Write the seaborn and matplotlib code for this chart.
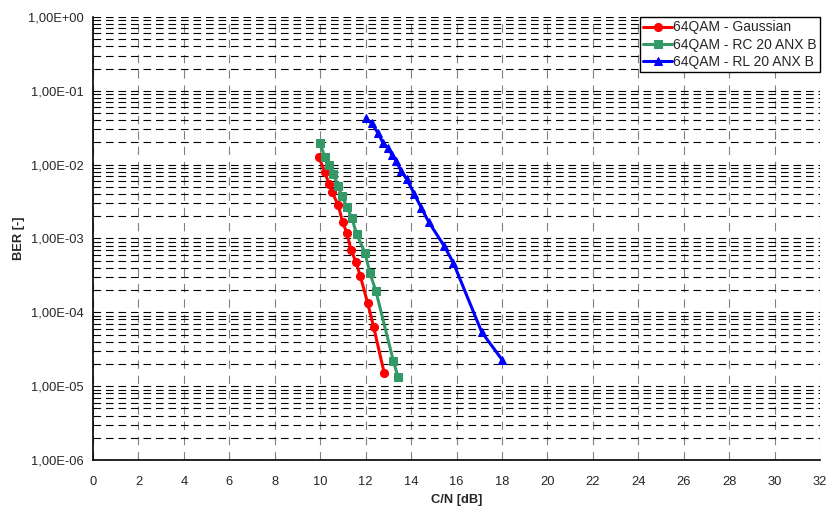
import numpy as np
import pandas as pd
import matplotlib
matplotlib.use("Agg")
import matplotlib.pyplot as plt
import matplotlib.ticker as mticker
import seaborn as sns

# ---- data ----
gauss_cn = [9.93, 10.2, 10.38, 10.53, 10.80, 10.99, 11.17, 11.36, 11.58, 11.77, 12.09, 12.35, 12.82]
gauss_ber = [1.29e-2, 8.0e-3, 5.5e-3, 4.2e-3, 2.8e-3, 1.65e-3, 1.2e-3, 6.9e-4, 4.8e-4, 3.07e-4, 1.33e-4, 6.4e-5, 1.5e-5]

rc_cn = [10.0, 10.19, 10.38, 10.58, 10.77, 10.95, 11.17, 11.39, 11.61, 11.97, 12.19, 12.45, 13.22, 13.42]
rc_ber = [1.95e-2, 1.29e-2, 1.0e-2, 7.5e-3, 5.2e-3, 3.8e-3, 2.7e-3, 1.9e-3, 1.14e-3, 6.4e-4, 3.4e-4, 1.95e-4, 2.2e-5, 1.35e-5]

rl_cn = [12.0, 12.26, 12.55, 12.77, 12.99, 13.16, 13.35, 13.57, 13.82, 14.15, 14.45, 14.78, 15.46, 15.86, 17.11, 18.02]
rl_ber = [4.25e-2, 3.64e-2, 2.67e-2, 1.95e-2, 1.67e-2, 1.36e-2, 1.11e-2, 8.1e-3, 6.3e-3, 3.97e-3, 2.6e-3, 1.67e-3, 7.9e-4, 4.7e-4, 5.4e-5, 2.25e-5]

series_names = ["64QAM - Gaussian", "64QAM - RC 20 ANX B", "64QAM - RL 20 ANX B"]
series_colors = ["#FF0000", "#339966", "#0000FF"]
series_markers = ["o", "s", "^"]

x_ticks = list(range(0, 33, 2))
y_decades = [1e-6, 1e-5, 1e-4, 1e-3, 1e-2, 1e-1, 1e0]

df = pd.concat([
    pd.DataFrame({"cn": gauss_cn, "ber": gauss_ber, "series": series_names[0]}),
    pd.DataFrame({"cn": rc_cn, "ber": rc_ber, "series": series_names[1]}),
    pd.DataFrame({"cn": rl_cn, "ber": rl_ber, "series": series_names[2]}),
], ignore_index=True)

sns.set_style("white")
plt.rcParams["font.family"] = ["Liberation Sans", "DejaVu Sans"]
plt.rcParams["lines.scale_dashes"] = False

W, H = 833, 509
top_px, bot_px, left_px, right_px = 17, 460, 93, 820
fig = plt.figure(figsize=(W / 100, H / 100), dpi=100)
ax = fig.add_axes([left_px / W, 1 - bot_px / H, (right_px - left_px) / W, (bot_px - top_px) / H])

for name, col, mk in zip(series_names, series_colors, series_markers):
    sub = df[df["series"] == name]
    sns.lineplot(data=sub, x="cn", y="ber", ax=ax, color=col, marker=mk,
                 markersize=5.8, markeredgecolor=col,
                 linewidth=2.2, sort=False, estimator=None, label=name, zorder=5)

ax.set_yscale("log")
ax.set_xlim(0, 32)
ax.set_ylim(1e-6, 1)
ax.set_xticks(x_ticks)
ax.set_xticklabels([str(t) for t in x_ticks])
ax.set_yticks(y_decades)
ax.yaxis.set_major_formatter(mticker.FuncFormatter(lambda v, p: f"{v:.2E}".replace(".", ",")))
ax.yaxis.set_minor_locator(mticker.LogLocator(base=10, subs=np.arange(2, 10)))
ax.yaxis.set_minor_formatter(mticker.NullFormatter())

ax.tick_params(axis="both", which="major", labelsize=9.3, length=4, width=1, color="black", direction="out")
ax.tick_params(axis="y", which="minor", length=0)
ax.tick_params(axis="x", which="major", pad=7.5)
ax.tick_params(axis="y", which="major", pad=3)

# grid
ax.grid(False)
ax.yaxis.grid(True, which="both", color="black", linestyle=(0, (5.5, 3.5)), linewidth=0.8, zorder=0)
ax.xaxis.grid(True, which="major", color="#808080", linestyle=(0, (6, 5)), linewidth=0.8, zorder=0)
ax.set_axisbelow(True)

for s in ["top", "right"]:
    ax.spines[s].set_visible(False)
for s in ["left", "bottom"]:
    ax.spines[s].set_color("black")
    ax.spines[s].set_linewidth(1.2)

ax.set_xlabel("C/N [dB]", fontsize=9.3, fontweight="bold", labelpad=4)
ax.set_ylabel("BER [-]", fontsize=9.3, fontweight="bold", labelpad=2)

leg = ax.legend(loc="upper right", bbox_to_anchor=(1.0, 1.0), fontsize=10,
                frameon=True, fancybox=False, shadow=False, framealpha=1,
                handlelength=2.1, handletextpad=0.05, borderpad=0.25,
                labelspacing=0.22, borderaxespad=0)
leg.get_frame().set_edgecolor("black")
leg.get_frame().set_linewidth(1.0)
leg.set_zorder(10)

fig.savefig("out.png", dpi=100)
